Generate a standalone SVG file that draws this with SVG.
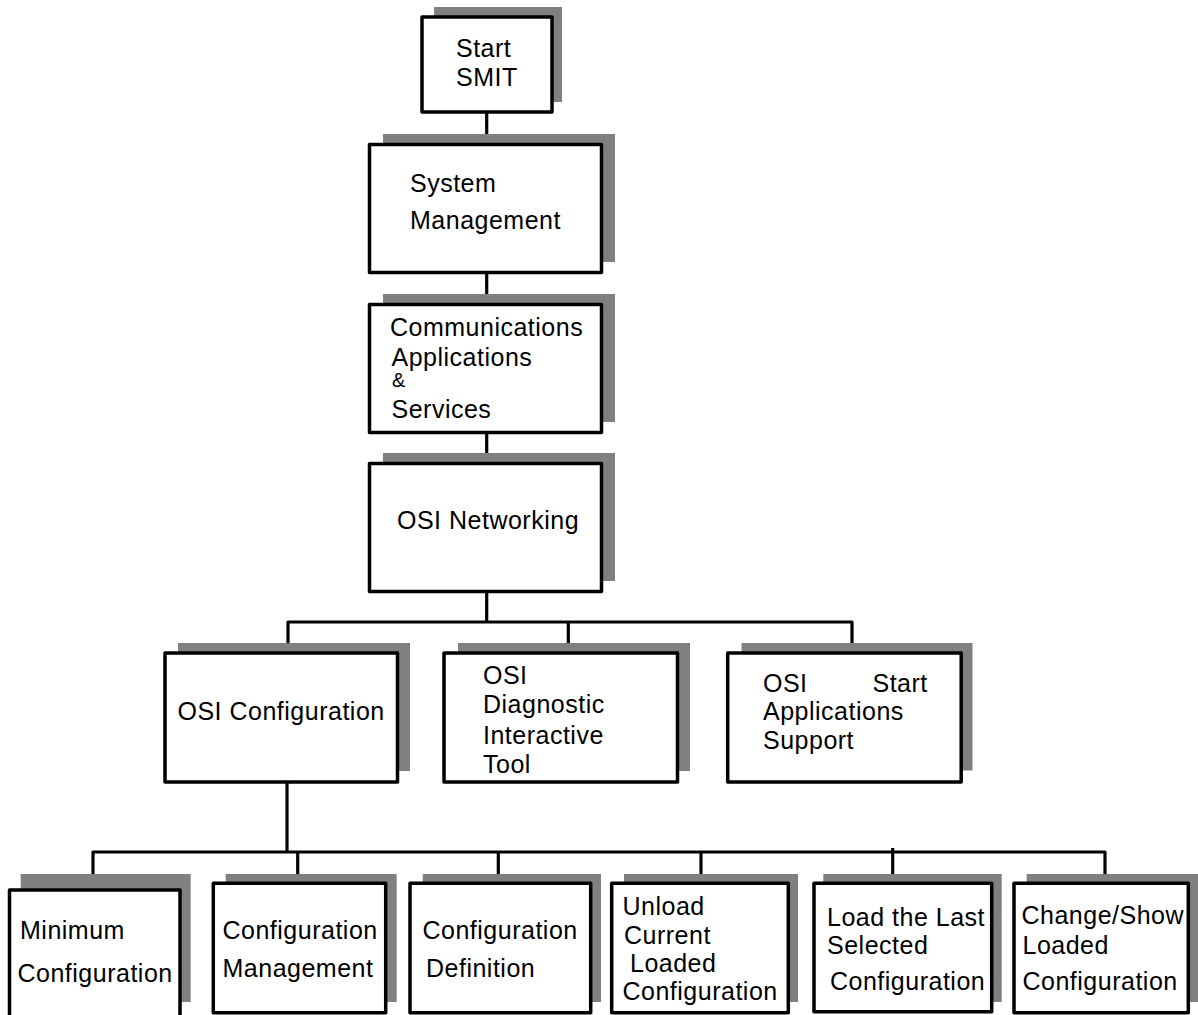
<svg xmlns="http://www.w3.org/2000/svg" width="1198" height="1015" viewBox="0 0 1198 1015">
  <style>
    .shadow { fill: #808080; stroke: none; }
    .box { fill: #ffffff; stroke: #000000; stroke-width: 3.5; stroke-linejoin: round; }
    .wire { fill: none; stroke: #000000; stroke-width: 3.2; stroke-linejoin: round; stroke-linecap: butt; }
    text { font-family: "Liberation Sans", Arial, Helvetica, sans-serif; font-size: 25px; letter-spacing: 0.5px; fill: #000000; }
    .amp { font-size: 20px; }
  </style>
  <rect width="1198" height="1015" fill="#ffffff"/>

  <!-- tree connectors -->
  <g id="connectors">
    <path class="wire" d="M486.7,112 V145"/>
    <path class="wire" d="M486.7,273 V305"/>
    <path class="wire" d="M486.7,433 V464"/>
    <path class="wire" d="M486.7,592 V622"/>
    <path class="wire" d="M288,653 V622 H852 V653"/>
    <path class="wire" d="M568.3,622 V651"/>
    <path class="wire" d="M287,782 V852"/>
    <path class="wire" d="M93,885 V852 H1105 V883"/>
    <path class="wire" d="M297.7,852 V883"/>
    <path class="wire" d="M498.3,852 V883"/>
    <path class="wire" d="M701,852 V883"/>
    <path class="wire" d="M892.7,848 V883"/>
  </g>

  <g id="start-smit">
    <rect class="shadow" x="434" y="7" width="128" height="95"/>
    <rect class="box" x="422" y="17" width="130" height="95"/>
    <text x="456" y="57">Start</text>
    <text x="456" y="85.5">SMIT</text>
  </g>

  <g id="system-management">
    <rect class="shadow" x="383" y="134" width="232" height="128"/>
    <rect class="box" x="369.5" y="144.5" width="232" height="128"/>
    <text x="410" y="192">System</text>
    <text x="410" y="229">Management</text>
  </g>

  <g id="communications">
    <rect class="shadow" x="383" y="294" width="232" height="128"/>
    <rect class="box" x="369.5" y="304.5" width="232" height="128"/>
    <text x="390" y="335.5">Communications</text>
    <text x="391.5" y="366">Applications</text>
    <text class="amp" x="392" y="387">&amp;</text>
    <text x="391.5" y="418">Services</text>
  </g>

  <g id="osi-networking">
    <rect class="shadow" x="383" y="453" width="232" height="128"/>
    <rect class="box" x="369.5" y="463.5" width="232" height="128"/>
    <text x="397" y="529">OSI Networking</text>
  </g>

  <g id="osi-configuration">
    <rect class="shadow" x="178" y="643" width="232" height="128"/>
    <rect class="box" x="165" y="653" width="232.5" height="129"/>
    <text x="177.5" y="720">OSI Configuration</text>
  </g>

  <g id="osi-diagnostic">
    <rect class="shadow" x="458" y="643" width="232" height="128"/>
    <rect class="box" x="444" y="653" width="233.5" height="129"/>
    <text x="483" y="684">OSI</text>
    <text x="483" y="713">Diagnostic</text>
    <text x="483" y="744">Interactive</text>
    <text x="483" y="773">Tool</text>
  </g>

  <g id="osi-start-apps">
    <rect class="shadow" x="741.5" y="643" width="231" height="127.5"/>
    <rect class="box" x="727.7" y="653" width="233.5" height="129"/>
    <text x="763" y="692">OSI</text>
    <text x="872.5" y="692">Start</text>
    <text x="763" y="720">Applications</text>
    <text x="763" y="749">Support</text>
  </g>

  <g id="minimum-configuration">
    <rect class="shadow" x="20.7" y="874" width="170" height="128"/>
    <rect class="box" x="9.5" y="890" width="170.5" height="135"/>
    <text x="20" y="939">Minimum</text>
    <text x="17.5" y="981.5">Configuration</text>
  </g>

  <g id="configuration-management">
    <rect class="shadow" x="225.7" y="874" width="171" height="128"/>
    <rect class="box" x="213.3" y="883.3" width="172.4" height="129.4"/>
    <text x="222.5" y="939">Configuration</text>
    <text x="222.5" y="976.5">Management</text>
  </g>

  <g id="configuration-definition">
    <rect class="shadow" x="422.7" y="874" width="178.3" height="128"/>
    <rect class="box" x="410" y="883.3" width="180.7" height="129.4"/>
    <text x="422.5" y="939">Configuration</text>
    <text x="426" y="976.5">Definition</text>
  </g>

  <g id="unload-configuration">
    <rect class="shadow" x="624" y="874" width="174" height="128"/>
    <rect class="box" x="611.7" y="883.3" width="176.6" height="129.4"/>
    <text x="622.5" y="915">Unload</text>
    <text x="624" y="943.5">Current</text>
    <text x="630" y="971.5">Loaded</text>
    <text x="622.5" y="1000">Configuration</text>
  </g>

  <g id="load-last-configuration">
    <rect class="shadow" x="823.3" y="874" width="178.4" height="128"/>
    <rect class="box" x="814" y="883.3" width="177.7" height="128.4"/>
    <text x="827" y="926">Load the Last</text>
    <text x="827" y="953.5">Selected</text>
    <text x="830" y="990">Configuration</text>
  </g>

  <g id="change-show-configuration">
    <rect class="shadow" x="1026.7" y="874" width="172" height="128"/>
    <rect class="box" x="1014" y="883.3" width="174.3" height="129.4"/>
    <text x="1021.5" y="923.5">Change/Show</text>
    <text x="1022.5" y="953.5">Loaded</text>
    <text x="1022.5" y="990">Configuration</text>
  </g>
</svg>
